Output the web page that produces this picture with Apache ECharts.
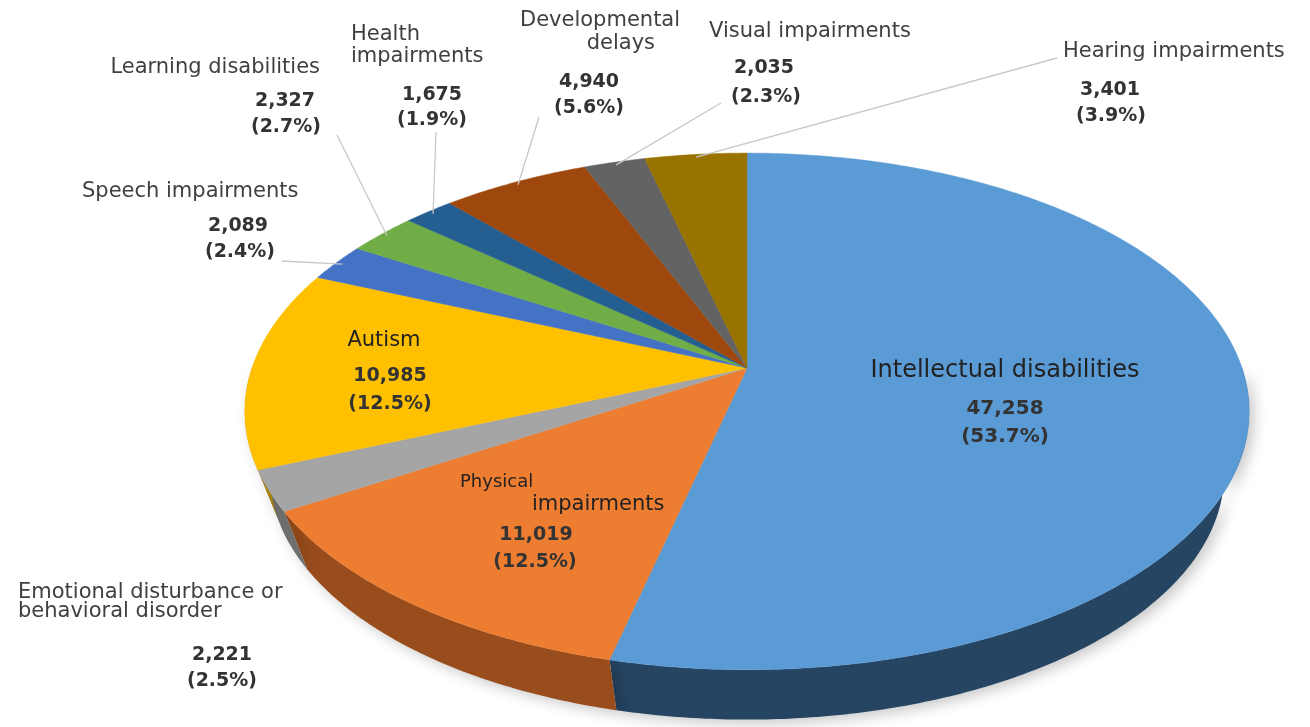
<!DOCTYPE html>
<html>
<head>
<meta charset="utf-8">
<script src="https://cdn.jsdelivr.net/npm/echarts@6/dist/echarts.min.js"></script>
<style>
  html, body { margin: 0; padding: 0; background: #fff; }
  #chart { width: 1310px; height: 727px; }
</style>
</head>
<body>
<div id="chart"></div>
<script>
// data, clockwise from 12 o'clock
const categories = [
  'Intellectual disabilities',
  'Physical\nimpairments',
  'Emotional disturbance or\nbehavioral disorder',
  'Autism',
  'Speech impairments',
  'Learning disabilities',
  'Health\nimpairments',
  'Developmental\ndelays',
  'Visual impairments',
  'Hearing impairments'
];
const values = [47258, 11019, 2221, 10985, 2089, 2327, 1675, 4940, 2035, 3401];
const percentLabels = ['53.7%', '12.5%', '2.5%', '12.5%', '2.4%', '2.7%', '1.9%', '5.6%', '2.3%', '3.9%'];

const topColors = ['#5b9bd5', '#ed7d31', '#a5a5a5', '#ffc000', '#4472c4', '#70ad47', '#255e91', '#9e480e', '#636363', '#997300'];
const sideColors = ['#264563', '#9a4d1c', '#6e6e6e', '#a88000', '#2c4a80', '#4a7530', '#183e60', '#6a300a', '#424242', '#664d00'];

// label placement (layout only): name lines [x, y, align, size], value / percent centers, leader start
const labelLayout = [
  { names: [[1005, 371, 'center', 24]], val: [1005, 409], pct: [1005, 437], inside: true },
  { names: [[460, 482, 'left', 18], [532, 505, 'left', 21]], val: [536, 535], pct: [535, 562], inside: true },
  { names: [[18, 593, 'left', 21], [18, 612, 'left', 21]], val: [222, 655], pct: [222, 681] },
  { names: [[384, 341, 'center', 21]], val: [390, 376], pct: [390, 404], inside: true },
  { names: [[82, 192, 'left', 21]], val: [238, 226], pct: [240, 252], lead: [282, 261] },
  { names: [[320, 68, 'right', 21]], val: [285, 101], pct: [286, 127], lead: [337, 135] },
  { names: [[351, 35, 'left', 21], [351, 57, 'left', 21]], val: [432, 95], pct: [432, 120], lead: [436, 132] },
  { names: [[520, 21, 'left', 21], [655, 44, 'right', 21]], val: [589, 82], pct: [589, 108], lead: [539, 117] },
  { names: [[709, 32, 'left', 21]], val: [764, 68], pct: [766, 97], lead: [721, 103] },
  { names: [[1063, 52, 'left', 21]], val: [1110, 90], pct: [1111, 116], lead: [1057, 58] }
];

const FONT = '"DejaVu Sans", "Noto Sans CJK KR", sans-serif';

// tilted disc with perspective; the bottom rim is a shrunk, lowered copy of the top rim
const CX = 747, CY = 368, RX = 495, RY = 251, PERSP = 0.168;
const BOTTOM_SCALE = 0.95, BOTTOM_DROP = 65;
function project(r, theta) {
  const x = r * Math.sin(theta), z = -r * Math.cos(theta);
  const w = 1 - PERSP * z;
  return [CX + RX * x / w, CY + RY * z / w];
}
function projectBottom(theta) {
  const p = project(1, theta);
  return [CX + BOTTOM_SCALE * (p[0] - CX), CY + BOTTOM_DROP + BOTTOM_SCALE * (p[1] - CY)];
}
function arc(a0, a1, fn) {
  const n = Math.max(2, Math.ceil(Math.abs(a1 - a0) / 0.01));
  const pts = [];
  for (let k = 0; k <= n; k++) pts.push(fn(a0 + (a1 - a0) * k / n));
  return pts;
}
const topRim = t => project(1, t);

const total = values.reduce((a, b) => a + b, 0);
const startFrac = [];
let acc = 0;
values.forEach(v => { startFrac.push(acc / total); acc += v; });
const TWO_PI = Math.PI * 2;

function sliceAngles(i, api) {
  const a0 = startFrac[i] * TWO_PI;
  return [a0, a0 + api.value(0) / total * TWO_PI];
}

function renderSide(params, api) {
  const i = params.dataIndex;
  const [a0, a1] = sliceAngles(i, api);
  const s0 = Math.max(a0, Math.PI / 2), s1 = Math.min(a1, Math.PI * 1.5);
  if (s1 <= s0) return null;
  const pts = arc(s0, s1, topRim).concat(arc(s1, s0, projectBottom));
  return {
    type: 'polygon',
    shape: { points: pts },
    style: { fill: sideColors[i], shadowBlur: 14, shadowColor: 'rgba(0,0,0,0.22)', shadowOffsetX: 5, shadowOffsetY: 4 }
  };
}

function renderTop(params, api) {
  const i = params.dataIndex;
  const [a0, a1] = sliceAngles(i, api);
  const pts = [project(0, 0)].concat(arc(a0, a1, topRim));
  return {
    type: 'polygon',
    shape: { points: pts },
    style: { fill: topColors[i], stroke: topColors[i], lineWidth: 0.5 }
  };
}

function renderLabel(params, api) {
  const i = params.dataIndex;
  const lay = labelLayout[i];
  const [a0, a1] = sliceAngles(i, api);
  const children = [];
  const nameColor = lay.inside ? '#222' : '#404040';
  categories[i].split('\n').forEach((line, k) => {
    const p = lay.names[k];
    children.push({
      type: 'text',
      style: { text: line, x: p[0], y: p[1], align: p[2], verticalAlign: 'middle', fontSize: p[3], fontFamily: FONT, fill: nameColor }
    });
  });
  const valSize = i === 0 ? 20 : 19;
  children.push({
    type: 'text',
    style: { text: api.value(0).toLocaleString('en-US'), x: lay.val[0], y: lay.val[1], align: 'center', verticalAlign: 'middle', fontSize: valSize, fontWeight: 'bold', fontFamily: FONT, fill: '#333' }
  });
  children.push({
    type: 'text',
    style: { text: '(' + percentLabels[i] + ')', x: lay.pct[0], y: lay.pct[1], align: 'center', verticalAlign: 'middle', fontSize: valSize, fontWeight: 'bold', fontFamily: FONT, fill: '#333' }
  });
  if (lay.lead) {
    const end = project(0.985, (a0 + a1) / 2);
    children.push({
      type: 'line',
      shape: { x1: lay.lead[0], y1: lay.lead[1], x2: end[0], y2: end[1] },
      style: { stroke: '#c8c8c8', lineWidth: 1.3 }
    });
  }
  return { type: 'group', children };
}

const chart = echarts.init(document.getElementById('chart'), null, { renderer: 'canvas' });
const seriesData = values.map(v => [v]);
chart.setOption({
  backgroundColor: '#fff',
  animation: false,
  series: [
    { type: 'custom', name: 'side', coordinateSystem: 'none', z: 1, renderItem: renderSide, data: seriesData },
    { type: 'custom', name: 'top', coordinateSystem: 'none', z: 2, renderItem: renderTop, data: seriesData },
    { type: 'custom', name: 'labels', coordinateSystem: 'none', z: 3, renderItem: renderLabel, data: seriesData }
  ]
});
</script>
</body>
</html>
